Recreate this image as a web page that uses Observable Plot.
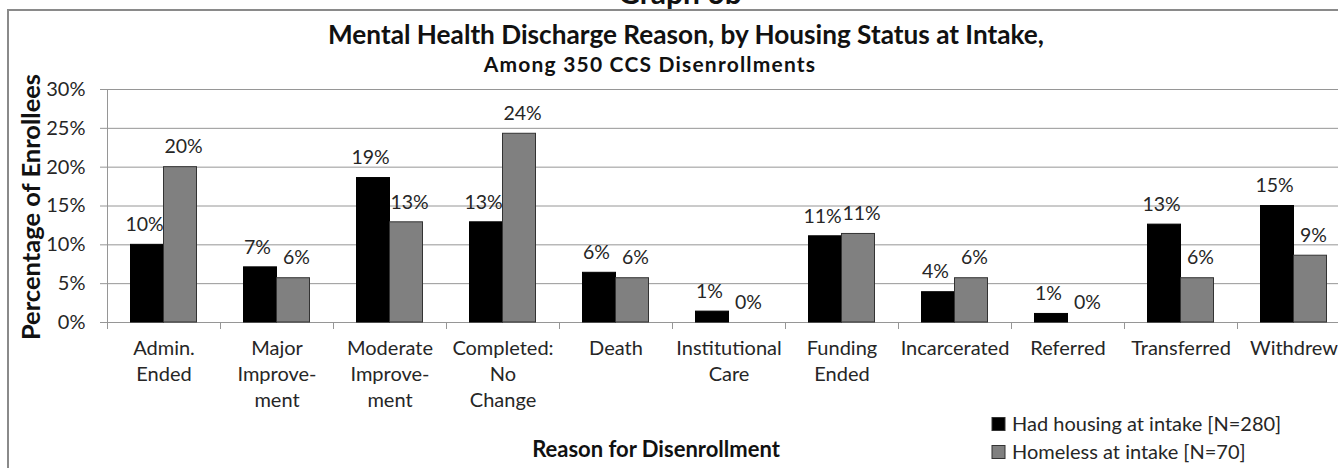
<!DOCTYPE html>
<html>
<head>
<meta charset="utf-8">
<script src="https://cdn.jsdelivr.net/npm/d3@7"></script>
<script src="https://cdn.jsdelivr.net/npm/@observablehq/plot@0.6"></script>
<style>
  html, body { margin: 0; padding: 0; background: #fff; overflow: hidden; }
  #wrap { position: relative; width: 1338px; height: 468px; overflow: hidden; background: #fff; }
  #chart { position: absolute; left: 0; top: 0; width: 1350px; }
  #overlay { position: absolute; left: 0; top: 0; pointer-events: none; }
</style>
</head>
<body>
<div id="wrap">
  <div id="chart"></div>
  <svg id="overlay" width="1338" height="468"></svg>
</div>
<script>
// ---------- data ----------
const categories = ["Admin. Ended", "Major Improvement", "Moderate Improvement", "Completed: No Change",
  "Death", "Institutional Care", "Funding Ended", "Incarcerated", "Referred", "Transferred", "Withdrew"];
const tickLabels = ["Admin.\nEnded", "Major\nImprove-\nment", "Moderate\nImprove-\nment", "Completed:\nNo\nChange",
  "Death", "Institutional\nCare", "Funding\nEnded", "Incarcerated", "Referred", "Transferred", "Withdrew"];
const seriesNames = ["Had housing at intake [N=280]", "Homeless at intake [N=70]"];
const seriesColors = ["#000000", "#808080"];
const hadHousing = [10.0, 7.1, 18.6, 12.9, 6.4, 1.4, 11.1, 3.9, 1.1, 12.6, 15.0];
const homeless   = [20.0, 5.7, 12.9, 24.3, 5.7, 0.0, 11.4, 5.7, 0.0, 5.7, 8.6];
const yTicks = [0, 5, 10, 15, 20, 25, 30];
const graphLabel = "Graph 6b";
const titleText = "Mental Health Discharge Reason, by Housing Status at Intake,";
const subtitleText = "Among 350 CCS Disenrollments";
const xTitle = "Reason for Disenrollment";
const yTitle = "Percentage of Enrollees";

// ---------- layout ----------
const W = 1350, H = 468, ML = 107, MR = 0, MT = 89, MB = 146;
const step = (W - ML - MR) / categories.length;
const barW = 33;
const FONT = "Lato, 'Open Sans', sans-serif";
const gridColor = "#969696";

const rows = categories.flatMap((c, i) => [
  {category: c, series: seriesNames[0], value: hadHousing[i]},
  {category: c, series: seriesNames[1], value: homeless[i]}
]);
const isA = d => d.series === seriesNames[0];
const isB = d => d.series === seriesNames[1];
const labelOf = d => tickLabels[categories.indexOf(d)];
const pct = d => Math.round(d.value) + "%";

const plot = Plot.plot({
  width: W, height: H,
  marginLeft: ML, marginRight: MR, marginTop: MT, marginBottom: MB,
  style: {fontFamily: FONT, color: "#262626", background: "transparent", maxWidth: "none", overflow: "visible"},
  x: {domain: categories, padding: 0, axis: null},
  y: {domain: [0, 30], axis: null},
  color: {domain: seriesNames, range: seriesColors},
  marks: [
    Plot.ruleY(yTicks, {stroke: gridColor, strokeWidth: 1}),
    Plot.ruleX([categories[0]], {dx: -step / 2, stroke: gridColor}),
    Plot.ruleX(categories, {y1: 0, y2: 0, insetBottom: -7, dx: -step / 2, stroke: gridColor}),
    Plot.axisY({ticks: yTicks, tickSize: 7, tickPadding: 15, tickFormat: d => d + "%",
      stroke: gridColor, fontSize: 20, label: null}),
    Plot.axisX({tickSize: 0, tickPadding: 14, tickFormat: labelOf, lineHeight: 1.3,
      fontSize: 20, label: null}),
    Plot.barY(rows, {filter: isA, x: "category", y: "value", fill: "series", stroke: "#000",
      strokeWidth: 1, insetLeft: step / 2 - barW, insetRight: step / 2}),
    Plot.barY(rows, {filter: isB, x: "category", y: "value", fill: "series", stroke: "#333",
      strokeWidth: 1, insetLeft: step / 2, insetRight: step / 2 - barW}),
    Plot.text(rows, {filter: isA, x: "category", y: "value", text: pct,
      dx: -barW / 2 - 3, dy: -20, fontSize: 19.5, fill: "#262626"}),
    Plot.text(rows, {filter: isB, x: "category", y: "value", text: pct,
      dx: barW / 2 + 3, dy: -20, fontSize: 19.5, fill: "#262626"})
  ]
});
document.getElementById("chart").appendChild(plot);

// ---------- titles, border, legend ----------
const ov = d3.select("#overlay");
ov.append("rect").attr("x", 8).attr("y", 10).attr("width", 1400).attr("height", 500)
  .attr("fill", "none").attr("stroke", "#8a8a8a").attr("stroke-width", 2);
const txt = (s, x, y, size, weight, anchor = "middle") =>
  ov.append("text").attr("x", x).attr("y", y).attr("text-anchor", anchor)
    .attr("font-family", FONT).attr("font-size", size).attr("font-weight", weight)
    .attr("fill", "#111").text(s);
txt(graphLabel, 680, 4, 30, 700);
txt(titleText, 686, 44, 26.2, 700);
txt(subtitleText, 650, 72, 21, 700).attr("letter-spacing", 1.2);
txt(xTitle, 656, 457, 22, 700);
txt(yTitle, 0, 0, 25.5, 700).attr("transform", "translate(40,207) rotate(-90)");

const color = plot.scale("color");
seriesNames.forEach((s, i) => {
  const cy = 424 + i * 28;
  ov.append("rect").attr("x", 992).attr("y", cy - 6.5).attr("width", 13).attr("height", 13)
    .attr("fill", color.apply(s)).attr("stroke", "#333").attr("stroke-width", 1);
  txt(s, 1012, cy + 7, 20, 400, "start").attr("fill", "#262626");
});
</script>
</body>
</html>
